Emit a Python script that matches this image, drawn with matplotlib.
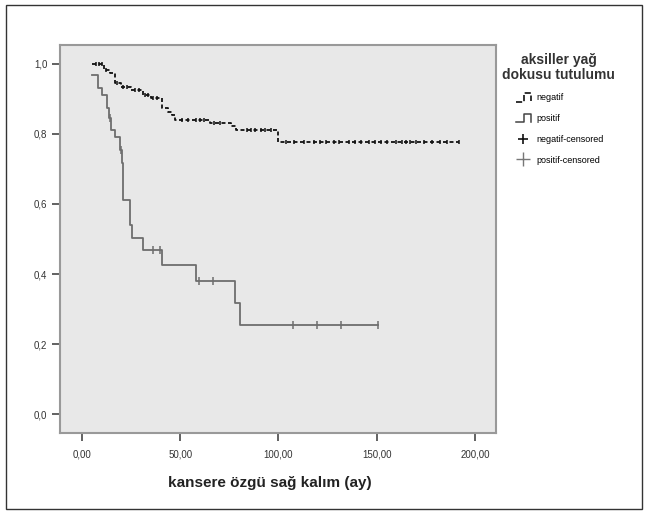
import numpy as np
import matplotlib
matplotlib.use('Agg')
import matplotlib.pyplot as plt
from matplotlib.lines import Line2D
from matplotlib.patches import Rectangle
from matplotlib.legend_handler import HandlerBase

plt.rcParams['font.family'] = ['Liberation Sans', 'DejaVu Sans']

# Kaplan-Meier curves (time in months, survival)
neg_start = (5.0, 1.0)
neg_event_t = [11, 14.5, 17, 20, 25, 31, 35, 40.5, 44, 46, 47.5, 65, 76, 78.5, 100]
neg_event_s = [0.983, 0.973, 0.945, 0.935, 0.926, 0.911, 0.903, 0.873, 0.864, 0.854,
               0.84, 0.832, 0.822, 0.811, 0.778]
neg_end = 192
neg_censor_t = [7, 8.5, 10, 12, 18, 21, 23, 27, 29, 32, 33.5, 36, 38, 51, 54, 58, 60, 62,
                67, 70, 84, 86, 88, 91, 93, 96, 104, 108, 113, 118, 121, 124, 128, 131,
                136, 139, 142, 146, 149, 152, 155, 160, 163, 165, 167, 170, 174, 178,
                182, 186, 192]

pos_start = (5.2, 0.969)
pos_event_t = [8.3, 10.3, 12.5, 13.5, 15, 16.8, 19.3, 20.2, 21, 24.4, 25.2, 30.8, 40.5,
               57.8, 78.1, 80.3]
pos_event_s = [0.93, 0.911, 0.873, 0.845, 0.81, 0.79, 0.754, 0.717, 0.611, 0.54, 0.504,
               0.469, 0.426, 0.381, 0.317, 0.254]
pos_end = 150.5
pos_censor_t = [14, 20, 36, 39.7, 59.5, 66.6, 107.4, 119.8, 131.7, 150.5]

x_ticks = [0, 50, 100, 150, 200]
x_labels = ['0,00', '50,00', '100,00', '150,00', '200,00']
y_ticks = [0.0, 0.2, 0.4, 0.6, 0.8, 1.0]
y_labels = ['0,0', '0,2', '0,4', '0,6', '0,8', '1,0']
legend_labels = ['negatif', 'positif', 'negatif-censored', 'positif-censored']


def km_path(start, ev_t, ev_s, end):
    x = [start[0]] + list(ev_t) + [end]
    y = [start[1]] + list(ev_s) + [ev_s[-1]]
    return x, y


def surv_at(t, start, ev_t, ev_s):
    s = start[1]
    for et, es in zip(ev_t, ev_s):
        if et <= t:
            s = es
    return s


class StepHandler(HandlerBase):
    def create_artists(self, legend, orig, xd, yd, w, h, fontsize, trans):
        xs = [xd + 0.15 * w, xd + 0.55 * w, xd + 0.55 * w, xd + 0.95 * w, xd + 0.95 * w]
        ys = [yd - 0.2 * h, yd - 0.2 * h, yd + 1.1 * h, yd + 1.1 * h, yd - 0.1 * h]
        ln = Line2D(xs, ys, color=orig.get_color(), lw=orig.get_linewidth(),
                    linestyle=orig.get_linestyle(), transform=trans)
        return [ln]


fig = plt.figure(figsize=(6.49, 5.16), dpi=100)
ax = fig.add_axes([60 / 649, 1 - 433 / 516, 436 / 649, 388 / 516])
ax.set_facecolor('#e8e8e8')

nx, ny = km_path(neg_start, neg_event_t, neg_event_s, neg_end)
px, py = km_path(pos_start, pos_event_t, pos_event_s, pos_end)
ax.step(nx, ny, where='post', color='#111111', lw=1.3, linestyle=(0, (2.2, 1.4)))
ax.step(px, py, where='post', color='#6e6e6e', lw=1.3)

ncy = [surv_at(t, neg_start, neg_event_t, neg_event_s) for t in neg_censor_t]
pcy = [surv_at(t, pos_start, pos_event_t, pos_event_s) for t in pos_censor_t]
ax.plot(neg_censor_t, ncy, linestyle='none', marker='|', ms=3.5, mew=1.1, color='#111111')
ax.plot(pos_censor_t, pcy, linestyle='none', marker='|', ms=6, mew=1.1, color='#6e6e6e')

ax.set_xlim(-11.2, 210.7)
ax.set_ylim(-0.054, 1.054)
ax.set_xticks(x_ticks)
ax.set_xticklabels(x_labels)
ax.set_yticks(y_ticks)
ax.set_yticklabels(y_labels)
ax.tick_params(axis='both', direction='out', length=6, width=1.3, color='#555555',
               labelsize=7, labelcolor='#333333', pad=3)
ax.tick_params(axis='x', pad=6)
for sp in ax.spines.values():
    sp.set_color('#999999')
    sp.set_linewidth(1.5)

ax.set_xlabel('kansere özgü sağ kalım (ay)', fontsize=11, fontweight='bold',
              color='#222222')
ax.xaxis.set_label_coords(0.482, -0.11)

h_neg = Line2D([], [], color='#111111', lw=1.2, linestyle=(0, (1.6, 1.2)))
h_pos = Line2D([], [], color='#444444', lw=1.1)
h_negc = Line2D([], [], color='#111111', linestyle='none', marker='+', ms=7, mew=1.2)
h_posc = Line2D([], [], color='#777777', linestyle='none', marker='+', ms=10, mew=1.0)
leg = fig.legend([h_neg, h_pos, h_negc, h_posc], legend_labels, loc='upper left',
                 bbox_to_anchor=(494 / 649, 1 - 45 / 516), frameon=False,
                 title='aksiller yağ\ndokusu tutulumu', fontsize=6.5,
                 handlelength=2.1, handletextpad=0.5, labelspacing=1.3,
                 handler_map={h_neg: StepHandler(), h_pos: StepHandler()})
plt.setp(leg.get_title(), fontsize=10, fontweight='bold', color='#333333',
         multialignment='center', linespacing=1.05)

fig.add_artist(Rectangle((6 / 649, 1 - 509 / 516), 636 / 649, 504 / 516,
                         transform=fig.transFigure, fill=False, lw=1.0,
                         edgecolor='#333333'))

fig.savefig('out.png', dpi=100)
